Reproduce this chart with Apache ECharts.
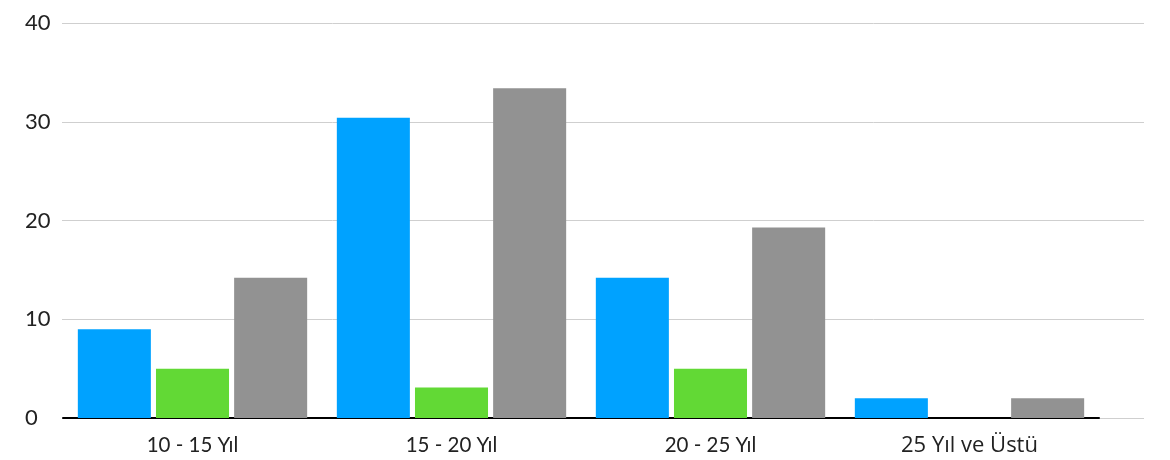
<!DOCTYPE html>
<html><head><meta charset="utf-8">
<script src="https://cdn.jsdelivr.net/npm/echarts@6/dist/echarts.min.js"></script>
<style>html,body{margin:0;padding:0;background:#fff}#c{width:1170px;height:460px}</style>
</head><body><div id="c"></div>
<script>
const categories = ['10 - 15 Yıl', '15 - 20 Yıl', '20 - 25 Yıl', '25 Yıl ve Üstü'];
const seriesBlue = [9.0, 30.4, 14.2, 2.0];
const seriesGreen = [5.0, 3.1, 5.0, 0];
const seriesGray = [14.2, 33.4, 19.3, 2.0];
const yTicks = [0, 10, 20, 30, 40];

const FONT = 'Lato';
const chart = echarts.init(document.getElementById('c'), null, {renderer: 'canvas'});
const barCommon = {type: 'bar', xAxisIndex: 1, yAxisIndex: 1, barWidth: '28.2%', barGap: '7%', animation: false};
chart.setOption({
  animation: false,
  grid: [
    {left: 62, right: 26, top: 23, bottom: 42},
    {left: 63, right: 71, top: 23, bottom: 42}
  ],
  xAxis: [
    {type: 'category', gridIndex: 0, data: categories, show: false},
    {type: 'category', gridIndex: 1, data: categories,
     axisLine: {show: true, lineStyle: {color: '#000', width: 2}},
     axisTick: {show: false},
     axisLabel: {margin: 17, fontSize: 20, fontFamily: FONT, color: '#222',
       formatter: function (v, i) { return i === 3 ? '{b|' + v + '}' : '{a|' + v + '}'; },
       rich: {
         a: {fontFamily: FONT, fontSize: 20.5, color: '#222'},
         b: {fontFamily: 'Open Sans', fontSize: 22, color: '#222'}
       }}
    }
  ],
  yAxis: [
    {type: 'value', gridIndex: 0, min: yTicks[0], max: yTicks[yTicks.length - 1], interval: 10,
     axisLine: {show: false}, axisTick: {show: false},
     splitLine: {lineStyle: {color: '#cfcfcf', width: 1}},
     axisLabel: {align: 'left', margin: 37, fontSize: 22, fontFamily: FONT, color: '#222'}},
    {type: 'value', gridIndex: 1, min: yTicks[0], max: yTicks[yTicks.length - 1], interval: 10, show: false,
     splitLine: {show: false}}
  ],
  series: [
    Object.assign({name: 'A', data: seriesBlue, itemStyle: {color: '#00A2FF'}}, barCommon),
    Object.assign({name: 'B', data: seriesGreen, itemStyle: {color: '#62D935'}}, barCommon),
    Object.assign({name: 'C', data: seriesGray, itemStyle: {color: '#929292'}}, barCommon)
  ]
});
</script></body></html>
